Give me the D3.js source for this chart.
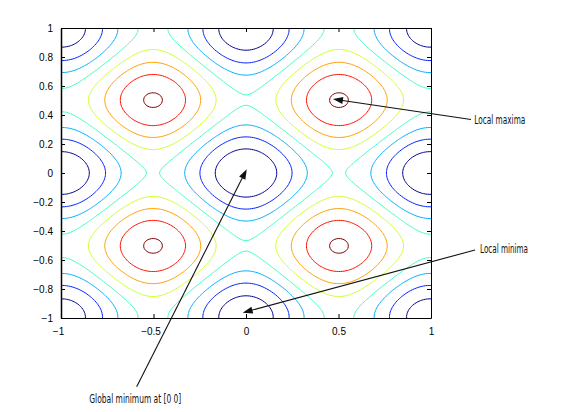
<!DOCTYPE html>
<html><head><meta charset="utf-8">
<script src="https://cdn.jsdelivr.net/npm/d3@7"></script>
<style>
html,body{margin:0;padding:0;background:#fff;}
svg{display:block;}
.tick-label{font-family:"Liberation Sans",Arial,Helvetica,sans-serif;font-size:10px;fill:#000;}
.note{font-family:"Liberation Sans Narrow","DejaVu Sans Condensed","Liberation Sans",sans-serif;font-size:12px;fill:#111;}
</style></head><body>
<svg id="chart" width="569" height="412"></svg>
<script>
// ---- data ----
// Surface: Rastrigin's function, Ras(x,y) = 20 + x^2 + y^2 - 10(cos 2πx + cos 2πy)
const gridRange = [-1.05, 1.05];
const gridStep = 0.01;
const levels = [5, 10, 15, 20, 25, 30, 35, 40];
const levelColors = ["#00008f", "#0020ff", "#00afff", "#40ffbf", "#cfff30", "#ff9f00", "#ff1000", "#800000"];
const xTicks = [-1, -0.5, 0, 0.5, 1];
const yTicks = [-1, -0.8, -0.6, -0.4, -0.2, 0, 0.2, 0.4, 0.6, 0.8, 1];
const noteTexts = ["Local maxima", "Local minima", "Global minimum at [0 0]"];
const noteTextX = [1.234, 1.265, -0.847];
const noteTextY = [0.338, -0.554, -1.584];
const arrowFromX = [1.216, 1.238, -0.591];
const arrowFromY = [0.369, -0.531, -1.474];
const arrowToX = [0.47, -0.018, 0.004];
const arrowToY = [0.51, -0.963, 0.026];

// ---- layout ----
const plot = {left: 61, right: 431, top: 28, bottom: 318};
const noteWidths = [51, 48, 92];
const tickLen = 4;

const svg = d3.select("#chart");
const x = d3.scaleLinear().domain([-1, 1]).range([plot.left, plot.right]);
const y = d3.scaleLinear().domain([-1, 1]).range([plot.bottom, plot.top]);

function ras(a, b) {
  return 20 + a * a + b * b - 10 * (Math.cos(2 * Math.PI * a) + Math.cos(2 * Math.PI * b));
}
const n = Math.round((gridRange[1] - gridRange[0]) / gridStep) + 1;
const values = new Array(n * n);
for (let j = 0; j < n; j++) {
  for (let i = 0; i < n; i++) {
    values[j * n + i] = ras(gridRange[0] + i * gridStep, gridRange[0] + j * gridStep);
  }
}
const contours = d3.contours().size([n, n]).thresholds(levels)(values);

const proj = d3.geoTransform({
  point: function(px, py) {
    this.stream.point(x(gridRange[0] + (px - 0.5) * gridStep), y(gridRange[0] + (py - 0.5) * gridStep));
  }
});
const path = d3.geoPath(proj);

svg.append("defs").append("clipPath").attr("id", "clip")
  .append("rect").attr("x", plot.left).attr("y", plot.top)
  .attr("width", plot.right - plot.left).attr("height", plot.bottom - plot.top);

const color = d3.scaleOrdinal().domain(levels).range(levelColors);

svg.append("g").attr("clip-path", "url(#clip)")
  .selectAll("path").data(contours).join("path")
  .attr("d", path)
  .attr("fill", "none")
  .attr("stroke", d => color(d.value))
  .attr("stroke-width", 1);

// ---- axes (MATLAB style box, inward ticks) ----
const axisG = svg.append("g");
const xAxisB = d3.axisBottom(x).tickValues(xTicks).tickSizeInner(-tickLen).tickSizeOuter(0).tickPadding(10)
  .tickFormat(d => d3.format("")(d).replace("-", "\u2212"));
const gB = axisG.append("g").attr("transform", `translate(0,${plot.bottom})`).call(xAxisB);
const xAxisT = d3.axisTop(x).tickValues(xTicks).tickSizeInner(-tickLen).tickSizeOuter(0).tickFormat("");
const gT = axisG.append("g").attr("transform", `translate(0,${plot.top})`).call(xAxisT);
const yAxisL = d3.axisLeft(y).tickValues(yTicks).tickSizeInner(-tickLen).tickSizeOuter(0).tickPadding(8)
  .tickFormat(d => d3.format("")(+d.toFixed(1)).replace("-", "\u2212"));
const gL = axisG.append("g").attr("transform", `translate(${plot.left},0)`).call(yAxisL);
const yAxisR = d3.axisRight(y).tickValues(yTicks).tickSizeInner(-tickLen).tickSizeOuter(0).tickFormat("");
const gR = axisG.append("g").attr("transform", `translate(${plot.right},0)`).call(yAxisR);

[gB, gT, gL, gR].forEach(g => {
  g.select(".domain").attr("stroke", "#000").attr("stroke-width", 1);
  g.selectAll(".tick line").attr("stroke", "#000").attr("stroke-width", 1);
  g.selectAll("text").attr("class", "tick-label").attr("font-family", null).attr("font-size", null);
});
gB.selectAll(".tick text").attr("dx", d => d < 0 ? -3 : 0);
gL.select(".domain").attr("stroke-width", 1.5);

// ---- annotations ----
const noteG = svg.append("g");
noteTexts.forEach((t, k) => {
  const x0 = x(arrowFromX[k]), y0 = y(arrowFromY[k]);
  const x1 = x(arrowToX[k]), y1 = y(arrowToY[k]);
  const dx = x1 - x0, dy = y1 - y0, len = Math.hypot(dx, dy);
  const ux = dx / len, uy = dy / len;
  const hl = 10, hw = 3.5;
  const bx = x1 - ux * hl, by = y1 - uy * hl;
  noteG.append("line").attr("x1", x0).attr("y1", y0).attr("x2", bx + ux * 2).attr("y2", by + uy * 2)
    .attr("stroke", "#111").attr("stroke-width", 1.1);
  noteG.append("path")
    .attr("d", `M${x1},${y1}L${bx - uy * hw},${by + ux * hw}L${bx + uy * hw},${by - ux * hw}Z`)
    .attr("fill", "#111");
  noteG.append("text").attr("class", "note")
    .attr("x", x(noteTextX[k])).attr("y", y(noteTextY[k]))
    .attr("textLength", noteWidths[k]).attr("lengthAdjust", "spacingAndGlyphs")
    .text(t);
});
</script>
</body></html>
